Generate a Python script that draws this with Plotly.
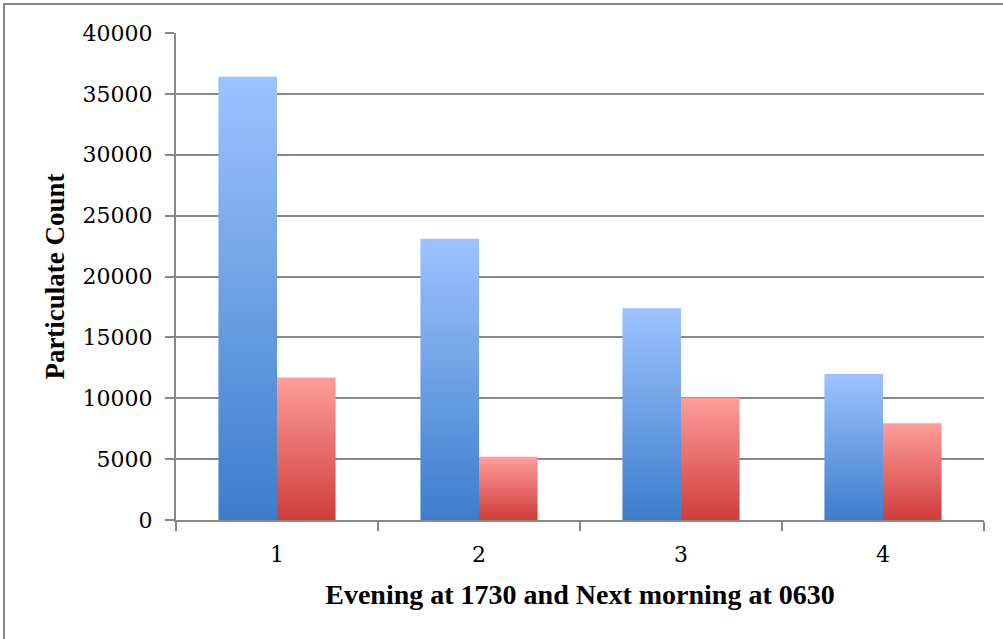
import plotly.graph_objects as go

# Particulate counts: evening (1730) vs next morning (0630)
categories = ["1", "2", "3", "4"]
evening_1730 = [36400, 23100, 17400, 12000]
morning_0630 = [11700, 5200, 10050, 7950]
y_ticks = [0, 5000, 10000, 15000, 20000, 25000, 30000, 35000, 40000]

BAR_W = 0.29          # bar width in category units
GRID = "#878787"
FONT = "DejaVu Serif"
TITLE_FONT = "Liberation Serif"

blue_scale = [[0, "#3C7DCB"], [1, "#9DC3FF"]]
red_scale = [[0, "#CF3D3A"], [1, "#FF9D9B"]]

fig = go.Figure()


def add_bar(center, value, side, scale):
    # each bar is a filled rectangle with its own vertical gradient
    x0 = center - BAR_W if side < 0 else center
    x1 = x0 + BAR_W
    fig.add_trace(go.Scatter(
        x=[x0, x0, x1, x1, x0],
        y=[0, value, value, 0, 0],
        mode="lines",
        line=dict(width=0),
        fill="toself",
        fillgradient=dict(type="vertical", colorscale=scale),
        hoverinfo="skip",
        showlegend=False,
    ))


for i, (e, m) in enumerate(zip(evening_1730, morning_0630)):
    add_bar(i + 1, e, -1, blue_scale)
    add_bar(i + 1, m, +1, red_scale)

fig.update_layout(
    width=1003,
    height=639,
    margin=dict(l=176, r=19, t=33, b=119),
    paper_bgcolor="white",
    plot_bgcolor="white",
    font=dict(family=FONT, color="black", size=22),
    xaxis=dict(
        range=[0.5, 4.5],
        tickmode="array",
        tickvals=[1, 2, 3, 4],
        ticktext=categories,
        ticks="",
        showgrid=False,
        zeroline=False,
        showline=True,
        linecolor=GRID,
        linewidth=2,
        ticklabelstandoff=14,
        minor=dict(
            tickmode="array",
            tickvals=[0.5, 1.5, 2.5, 3.5, 4.5],
            ticks="outside",
            ticklen=9,
            tickwidth=2,
            tickcolor=GRID,
            showgrid=False,
        ),
        title=dict(
            text="<b>Evening at 1730 and Next morning at 0630</b>",
            font=dict(family=TITLE_FONT, size=28),
            standoff=18,
        ),
    ),
    yaxis=dict(
        range=[0, 40000],
        tickmode="array",
        tickvals=y_ticks,
        ticktext=[str(v) for v in y_ticks],
        ticks="outside",
        ticklen=9,
        tickwidth=2,
        tickcolor=GRID,
        showgrid=True,
        gridcolor=GRID,
        gridwidth=2,
        zeroline=False,
        showline=True,
        linecolor=GRID,
        linewidth=2,
        ticklabelstandoff=8,
        title=dict(
            text="<b>Particulate Count</b>",
            font=dict(family=TITLE_FONT, size=27),
            standoff=10,
        ),
    ),
    shapes=[
        dict(
            type="rect", xref="paper", yref="paper",
            x0=-0.2129, x1=1.1, y0=-0.4, y1=1.0595,
            line=dict(color=GRID, width=2),
            fillcolor="rgba(0,0,0,0)",
            layer="below",
        )
    ],
)

fig.write_html("out.html")
